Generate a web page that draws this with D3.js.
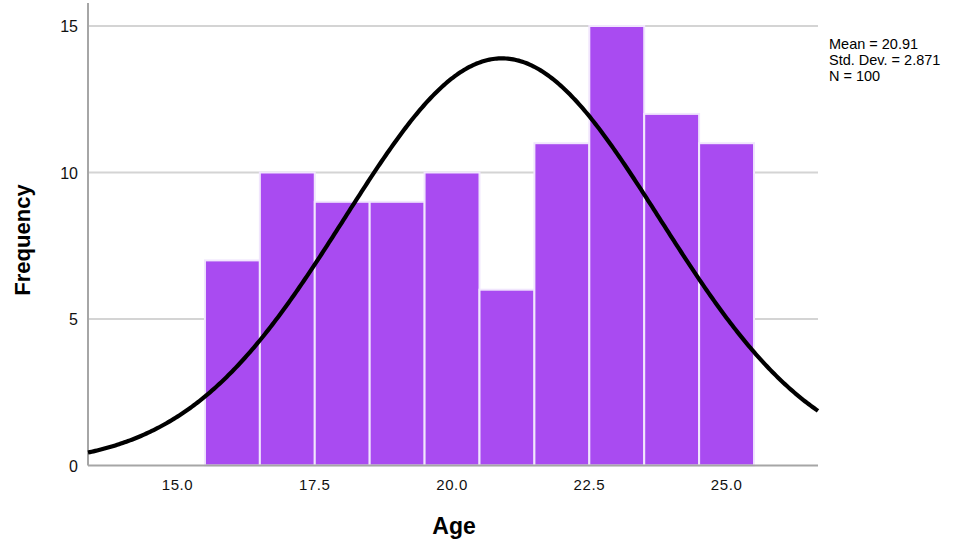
<!DOCTYPE html>
<html>
<head>
<meta charset="utf-8">
<script src="https://cdn.jsdelivr.net/npm/d3@7"></script>
<style>
  html, body { margin: 0; padding: 0; background: #fff; }
  svg { display: block; font-family: "Liberation Sans", Arial, sans-serif; }
</style>
</head>
<body>
<svg id="chart" width="964" height="542"></svg>
<script>
// Histogram of Age with a fitted normal curve
const ages = [16, 17, 18, 19, 20, 21, 22, 23, 24, 25];
const counts = [7, 10, 9, 9, 10, 6, 11, 15, 12, 11];
const xTicks = [15.0, 17.5, 20.0, 22.5, 25.0];
const yTicks = [0, 5, 10, 15];
const stats = { mean: 20.91, sd: 2.871, n: 100 };
const binWidth = 1;
const statLines = ["Mean = 20.91", "Std. Dev. = 2.871", "N = 100"];

const svg = d3.select("#chart");

const x = d3.scaleLinear().domain([13.37, 26.665]).range([88, 818]);
const y = d3.scaleLinear().domain([0, 15]).range([465.5, 26]);

// gridlines
svg.append("g")
  .selectAll("line")
  .data(yTicks.filter(d => d > 0))
  .join("line")
  .attr("x1", x.range()[0]).attr("x2", x.range()[1])
  .attr("y1", d => y(d)).attr("y2", d => y(d))
  .attr("stroke", "#d4d4d4").attr("stroke-width", 2);

// bars
svg.append("g")
  .selectAll("rect")
  .data(ages.map((a, i) => ({ a, c: counts[i] })))
  .join("rect")
  .attr("x", d => x(d.a - binWidth / 2))
  .attr("width", d => x(d.a + binWidth / 2) - x(d.a - binWidth / 2))
  .attr("y", d => y(d.c))
  .attr("height", d => y(0) - y(d.c))
  .attr("fill", "#a94bf1")
  .attr("stroke", "#f1e6fd")
  .attr("stroke-width", 2);

// axes lines
svg.append("line")
  .attr("x1", 88).attr("x2", 88).attr("y1", 3).attr("y2", y(0))
  .attr("stroke", "#a6a6a6").attr("stroke-width", 2);
svg.append("line")
  .attr("x1", 88).attr("x2", 818).attr("y1", y(0)).attr("y2", y(0))
  .attr("stroke", "#a6a6a6").attr("stroke-width", 2);

// normal curve
const [x0, x1] = x.domain();
const curvePts = d3.range(0, 401).map(i => {
  const v = x0 + (x1 - x0) * i / 400;
  const z = (v - stats.mean) / stats.sd;
  const f = stats.n * binWidth * Math.exp(-0.5 * z * z) / (stats.sd * Math.sqrt(2 * Math.PI));
  return [v, f];
});
svg.append("path")
  .datum(curvePts)
  .attr("d", d3.line().x(d => x(d[0])).y(d => y(d[1])))
  .attr("fill", "none")
  .attr("stroke", "#000")
  .attr("stroke-width", 4.2);

// y tick labels
svg.append("g")
  .selectAll("text")
  .data(yTicks)
  .join("text")
  .attr("x", 78)
  .attr("y", d => y(d) + 6)
  .attr("text-anchor", "end")
  .attr("font-size", 16)
  .attr("fill", "#111")
  .text(d => d);

// x tick labels
svg.append("g")
  .selectAll("text")
  .data(xTicks)
  .join("text")
  .attr("x", d => x(d))
  .attr("y", 490)
  .attr("text-anchor", "middle")
  .attr("font-size", 15)
  .attr("letter-spacing", 0.6)
  .attr("fill", "#111")
  .text(d => d.toFixed(1));

// axis titles
svg.append("text")
  .attr("x", 454).attr("y", 534)
  .attr("text-anchor", "middle")
  .attr("font-size", 23).attr("font-weight", "bold")
  .attr("fill", "#000")
  .text("Age");
svg.append("text")
  .attr("transform", "translate(30,240) rotate(-90)")
  .attr("text-anchor", "middle")
  .attr("font-size", 22).attr("font-weight", "bold")
  .attr("fill", "#000")
  .text("Frequency");

// summary statistics
svg.append("g")
  .selectAll("text")
  .data(statLines)
  .join("text")
  .attr("x", 829)
  .attr("y", (d, i) => 49 + i * 16)
  .attr("font-size", 14.5)
  .attr("fill", "#000")
  .text(d => d);
</script>
</body>
</html>
